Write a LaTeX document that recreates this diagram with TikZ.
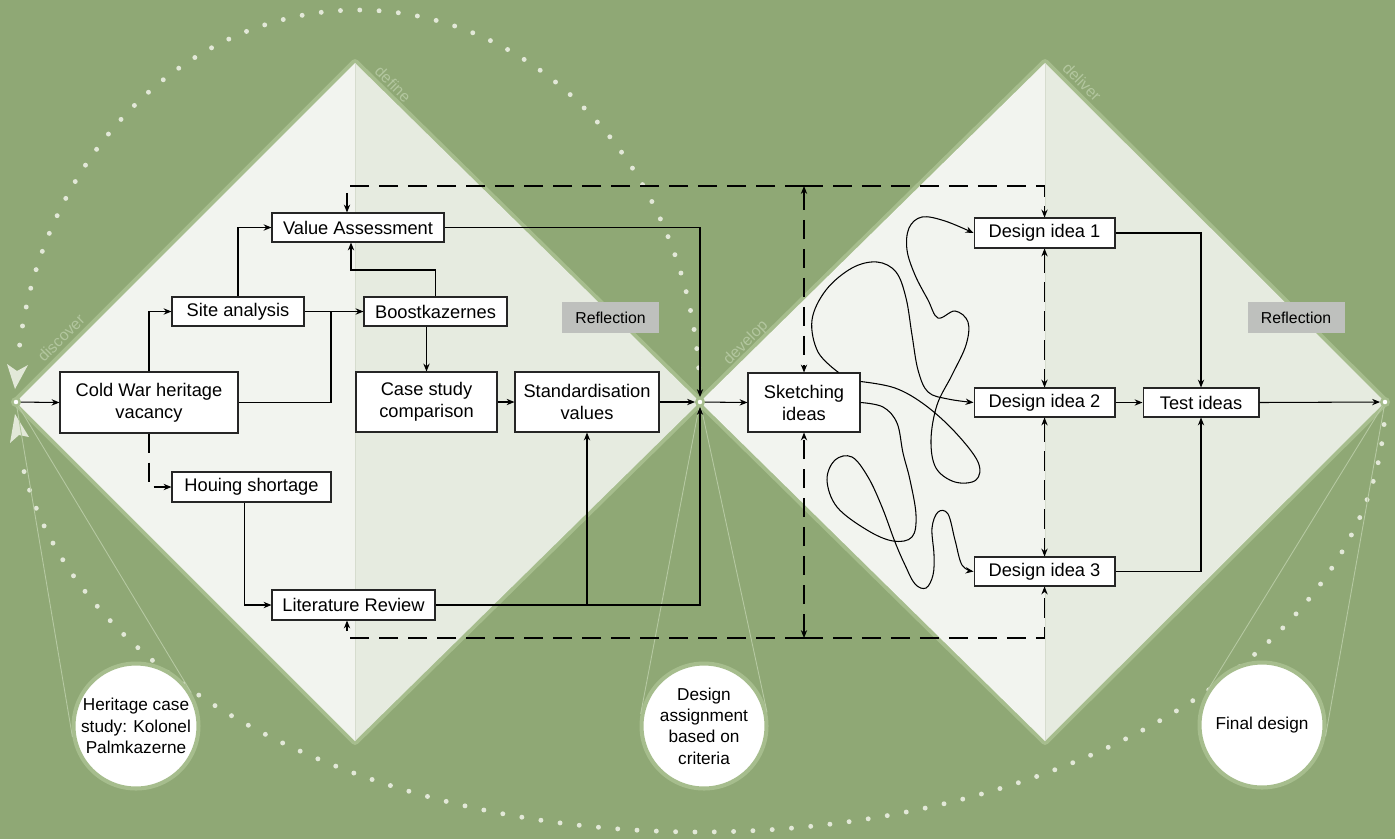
\documentclass[tikz,border=0pt]{standalone}
\usepackage{fontspec}
\setmainfont{Liberation Sans}
\usetikzlibrary{arrows.meta,calc}
\definecolor{bg}{RGB}{143,168,117}
\definecolor{band}{RGB}{166,189,141}
\definecolor{paleL}{RGB}{242,244,239}
\definecolor{paleR}{RGB}{230,235,224}
\definecolor{dotc}{RGB}{226,232,216}
\definecolor{lbl}{RGB}{178,198,158}
\definecolor{cone}{RGB}{182,201,162}
\definecolor{reflg}{RGB}{190,192,189}
\definecolor{divl}{RGB}{214,220,206}
\begin{document}
\begin{tikzpicture}[x=0.02cm,y=-0.02cm,
 box/.style={draw=black!85, fill=white, line width=0.6pt, inner sep=0pt, align=center, font=\fontsize{10.4}{12.5}\selectfont},
 refl/.style={fill=reflg, inner sep=0pt, font=\fontsize{9}{11}\selectfont, minimum width=1.94cm, minimum height=0.62cm},
 circ/.style={circle, fill=white, draw=band, line width=2.3pt, minimum size=2.5cm, inner sep=0pt, align=center, font=\fontsize{9.8}{12.2}\selectfont},
 vdot/.style={circle, fill=white, draw=band, line width=1.4pt, minimum size=0.15cm, inner sep=0pt},
 ln/.style={line width=0.6pt, black},
 arr/.style={ln, -{Stealth[length=4.5pt,width=3.6pt]}},
 arrb/.style={ln, {Stealth[length=4.5pt,width=3.6pt]}-{Stealth[length=4.5pt,width=3.6pt]}},
 dsh/.style={dash pattern=on 11pt off 5.5pt},
 dotarc/.style={dotc, line width=2.8pt, line cap=round, dash pattern=on 0pt off 11pt},
 phase/.style={lbl, font=\fontsize{9}{11}\selectfont},
 conel/.style={cone, line width=0.5pt}
]
\fill[bg] (0,0) rectangle (1395,839);
\useasboundingbox (0,0) rectangle (1395,839);

% diamonds
\draw[band, line width=4.5pt, line join=round] (16,402) -- (355,63) -- (700,402) -- (355,741) -- cycle;
\draw[band, line width=4.5pt, line join=round] (700,402) -- (1045,63) -- (1385,402) -- (1045,741) -- cycle;
\fill[paleL] (16,402) -- (355,63) -- (355,741) -- cycle;
\fill[paleR] (355,63) -- (700,402) -- (355,741) -- cycle;
\fill[paleL] (700,402) -- (1045,63) -- (1045,741) -- cycle;
\fill[paleR] (1045,63) -- (1385,402) -- (1045,741) -- cycle;
\draw[divl, line width=0.5pt] (355,63) -- (355,741);
\draw[divl, line width=0.5pt] (1045,63) -- (1045,741);

% phase labels
\node[phase, rotate=45] (lb1) at (61,338) {discover};
\node[phase, rotate=-45] (lb2) at (393,84) {define};
\node[phase, rotate=45] (lb3) at (746,343) {develop};
\node[phase, rotate=-45] (lb4) at (1082,82) {deliver};

% dotted arcs
\draw[dotarc] plot[domain=5:173.5, samples=150, variable=\t] ({358+342*cos(\t)},{402-392*sin(\t)});
\draw[dotarc] plot[domain=3:173, samples=200, variable=\t] ({700+685*cos(\t)},{402+430*sin(\t)});
\fill[dotc] (15,389) -- (7,364) -- (17,371) -- (28,365) -- cycle;
\fill[dotc] (15,414) -- (10,443) -- (19,435) -- (29,437) -- cycle;

% vertices
\node[vdot] (v1) at (16,402) {};
\node[vdot] (v2) at (700,402) {};
\node[vdot] (v3) at (1385,402) {};

% circles
\node[circ] (c1) at (136,726) {Heritage case\\study: Kolonel\\Palmkazerne};
\node[circ] (c2) at (704,726) {Design\\assignment\\based on\\criteria};
\node[circ] (c3) at (1262,725) {Final design};
\draw[conel] (v1) -- (tangent cs:node=c1,point={(v1)},solution=1);
\draw[conel] (v1) -- (tangent cs:node=c1,point={(v1)},solution=2);
\draw[conel] (v2) -- (tangent cs:node=c2,point={(v2)},solution=1);
\draw[conel] (v2) -- (tangent cs:node=c2,point={(v2)},solution=2);
\draw[conel] (v3) -- (tangent cs:node=c3,point={(v3)},solution=1);
\draw[conel] (v3) -- (tangent cs:node=c3,point={(v3)},solution=2);

% boxes
\node[box, minimum width=3.44cm, minimum height=0.58cm] (va) at (358,227.5) {Value Assessment};
\node[box, minimum width=2.64cm, minimum height=0.58cm] (site) at (238,311.5) {Site analysis};
\node[box, minimum width=2.86cm, minimum height=0.58cm] (boost) at (435.5,311.5) {Boostkazernes};
\node[box, minimum width=3.56cm, minimum height=1.22cm] (cw) at (149,402.5) {Cold War heritage\\vacancy};
\node[box, minimum width=2.82cm, minimum height=1.2cm] (case) at (426.5,402) {Case study\\comparison};
\node[box, minimum width=2.88cm, minimum height=1.2cm] (std) at (587,402) {Standardisation\\values};
\node[box, minimum width=3.18cm, minimum height=0.6cm] (hous) at (251.5,487) {Houing shortage};
\node[box, minimum width=3.26cm, minimum height=0.6cm] (lit) at (353.5,605) {Literature Review};
\node[refl] (r1) at (610.5,317.5) {Reflection};
\node[refl] (r2) at (1296,317.5) {Reflection};
\node[box, minimum width=2.24cm, minimum height=1.18cm] (sk) at (804,402.5) {Sketching\\ideas};
\node[box, minimum width=2.82cm, minimum height=0.6cm] (d1) at (1044.5,233) {Design idea 1};
\node[box, minimum width=2.82cm, minimum height=0.58cm] (d2) at (1044.5,402.5) {Design idea 2};
\node[box, minimum width=2.82cm, minimum height=0.58cm] (d3) at (1044.5,571.5) {Design idea 3};
\node[box, minimum width=2.32cm, minimum height=0.58cm] (test) at (1201,402.5) {Test ideas};

% left diamond connectors
\draw[arr] (v1) -- (cw.west);
\draw[arr] (cw.north) |- (site.west);
\coordinate (j1) at (331,311.5);
\draw[ln] (cw.east) -| (j1);
\draw[arr] (site.east) -- (boost.west);
\draw[arr] (site.north) |- (va.west);
\draw[arr] (boost.north) -- (boost.north |- 0,270) -| ($(va.south)+(-7,0)$);
\draw[arr] (boost.south -| case.north) -- (case.north);
\draw[arr] (case.east) -- (std.west);
\draw[arr] (std.east) -- (v2);
\draw[arr] (va.east) -| (v2);
\draw[arr] (lit.east) -| (v2);
\draw[arr] (lit.east -| std.south) -- (std.south);
\draw[arr, dsh] (cw.south) |- (hous.west);
\draw[arr] ($(hous.south)+(-7,0)$) |- (lit.west);

% dashed frame
\coordinate (tm) at (sk.north |- 0,186);
\coordinate (bm) at (sk.south |- 0,638);
\draw[arr, dsh] (tm) -| ($(va.north)+(-11,0)$);
\draw[arr, dsh] (tm) -| (d1.north);
\draw[arrb, dsh] (tm) -- (sk.north);
\draw[arr, dsh] (bm) -| ($(lit.south)+(-6.5,0)$);
\draw[arr, dsh] (bm) -| (d3.south);
\draw[arrb, dsh] (bm) -- (sk.south);
\draw[arrb, dsh] (d1.south) -- (d2.north);
\draw[arrb, dsh] (d2.south) -- (d3.north);

% right diamond connectors
\draw[arr] (v2) -- (sk.west);
\draw[arr] (d1.east) -| (test.north);
\draw[arr] (d2.east) -- (test.west);
\draw[arr] (d3.east) -| (test.south);
\draw[arr] (test.east) -- (v3);

% scribbles
\coordinate (s1) at ($(sk.east)+(0,-21)$);
\coordinate (s2) at ($(sk.north east)+(-22,0)$);
\draw[arr] plot[smooth, tension=0.6] coordinates {(s1) (895,388) (925,405) (955,432) (978,462) (976,480) (955,482) (936,468) (931,440) (937,405) (952,375) (966,345) (968,322) (955,311) (938,318) (928,300) (915,275) (907,250) (909,228) (922,217) (945,221) (d1.west)};
\draw[arr] plot[smooth, tension=0.6] coordinates {(s2) (818,352) (812,320) (826,290) (852,268) (877,262) (896,272) (906,298) (912,335) (918,370) (928,392) (948,399) (d2.west)};
\draw[arr] plot[smooth, tension=0.6] coordinates {(sk.east) (883,407) (897,423) (903,453) (910,480) (916,515) (912,537) (893,541) (867,530) (837,507) (827,480) (835,460) (852,457) (868,477) (882,507) (895,542) (905,565) (915,584) (926,588) (933,575) (934,555) (932,528) (938,512) (948,514) (955,540) (962,565) (d3.west)};
\end{tikzpicture}
\end{document}
